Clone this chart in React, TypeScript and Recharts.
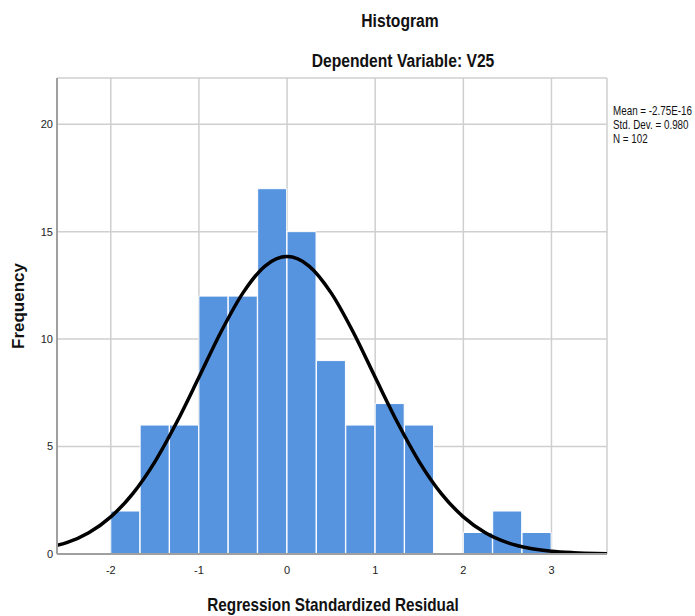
import type { ReactNode } from 'react'
import { ComposedChart, Bar, Line, XAxis, YAxis, CartesianGrid } from 'recharts'

// histogram bins (start of each bin, width 1/3)
const binStarts = [-2, -1.667, -1.333, -1, -0.667, -0.333, 0, 0.333, 0.667, 1, 1.333, 1.667, 2, 2.333, 2.667]
const counts = [2, 6, 6, 12, 12, 17, 15, 9, 6, 7, 6, 0, 1, 2, 1]

// normal curve
const curveX = [-2.61, -2.5, -2.25, -2, -1.75, -1.5, -1.25, -1, -0.75, -0.5, -0.25, 0, 0.25, 0.5, 0.75, 1, 1.25, 1.5, 1.75, 2, 2.25, 2.5, 2.75, 3, 3.25, 3.5, 3.63]
const curveY = [0.4, 0.53, 0.99, 1.73, 2.81, 4.29, 6.14, 8.22, 10.33, 12.15, 13.4, 13.84, 13.4, 12.15, 10.33, 8.22, 6.14, 4.29, 2.81, 1.73, 0.99, 0.53, 0.27, 0.13, 0.06, 0.02, 0.01]

const xTicks = [-2, -1, 0, 1, 2, 3]
const yTicks = [0, 5, 10, 15, 20]
const statsLines = ['Mean = -2.75E-16', 'Std. Dev. = 0.980', 'N = 102']

const W = 695
const H = 616
const X_MIN = -2.61
const X_MAX = 3.63
const Y_MAX = 22.15
const BIN_FIRST = -2
const BIN_LAST = 3

const margin = { top: 78, right: 88, bottom: 32, left: 7 }
const yAxisWidth = 50
const plotWidth = W - margin.left - yAxisWidth - margin.right
const pxPerUnit = plotWidth / (X_MAX - X_MIN)
const padLeft = (BIN_FIRST - X_MIN) * pxPerUnit
const padRight = (X_MAX - BIN_LAST) * pxPerUnit

const bins = binStarts.map((b, i) => ({ bin: b, count: counts[i] }))
const curve = curveX.map((x, i) => ({ x, y: curveY[i] }))

const font = '"Liberation Sans", Arial, sans-serif'
const tickStyle = { fill: '#222', fontSize: 11, fontFamily: font }

// SPSS output uses a condensed sans; squeeze Liberation Sans horizontally
function NarrowText(props: {
  x: number
  y: number
  sx: number
  size: number
  bold?: boolean
  anchor?: 'start' | 'middle' | 'end'
  rotate?: number
  children: ReactNode
}) {
  const { x, y, sx, size, bold, anchor = 'start', rotate = 0, children } = props
  return (
    <text
      x={0}
      y={0}
      transform={`translate(${x}, ${y}) rotate(${rotate}) scale(${sx}, 1)`}
      textAnchor={anchor}
      fontFamily={font}
      fontSize={size}
      fontWeight={bold ? 'bold' : 'normal'}
      fill="#111"
    >
      {children}
    </text>
  )
}

export default function App() {
  return (
    <div style={{ position: 'absolute', left: 0, top: 0, width: W, height: H, background: '#fff' }}>
      <ComposedChart width={W} height={H} data={bins} margin={margin} barCategoryGap={0}>
        <CartesianGrid xAxisId="num" stroke="#cfcfcf" strokeWidth={1.5} />
        <XAxis
          xAxisId="bins"
          type="category"
          dataKey="bin"
          hide
          height={0}
          padding={{ left: padLeft, right: padRight }}
        />
        <XAxis
          xAxisId="num"
          type="number"
          dataKey="x"
          domain={[X_MIN, X_MAX]}
          allowDataOverflow
          ticks={xTicks}
          tick={tickStyle}
          tickLine={false}
          tickSize={0}
          tickMargin={12}
          height={30}
          axisLine={{ stroke: '#a0a0a0', strokeWidth: 2 }}
        />
        <YAxis
          type="number"
          domain={[0, Y_MAX]}
          allowDataOverflow
          ticks={yTicks}
          tick={tickStyle}
          tickLine={false}
          tickSize={0}
          tickMargin={4}
          width={yAxisWidth}
          axisLine={{ stroke: '#a0a0a0', strokeWidth: 2 }}
        />
        <Bar
          xAxisId="bins"
          dataKey="count"
          fill="#5794e0"
          stroke="#ffffff"
          strokeWidth={1}
          isAnimationActive={false}
        />
        <Line
          xAxisId="num"
          data={curve}
          dataKey="y"
          type="monotone"
          stroke="#000"
          strokeWidth={3.5}
          dot={false}
          activeDot={false}
          isAnimationActive={false}
        />
      </ComposedChart>
      <svg width={W} height={H} style={{ position: 'absolute', left: 0, top: 0, pointerEvents: 'none' }}>
        <NarrowText x={400} y={27} sx={0.87} size={18} bold anchor="middle">
          Histogram
        </NarrowText>
        <NarrowText x={403} y={67} sx={0.87} size={18} bold anchor="middle">
          Dependent Variable: V25
        </NarrowText>
        {statsLines.map((s, i) => (
          <NarrowText key={s} x={613} y={115 + i * 14} sx={0.82} size={12}>
            {s}
          </NarrowText>
        ))}
        <NarrowText x={24} y={306} sx={1} size={17} bold anchor="middle" rotate={-90}>
          Frequency
        </NarrowText>
        <NarrowText x={333} y={611} sx={0.85} size={18} bold anchor="middle">
          Regression Standardized Residual
        </NarrowText>
      </svg>
    </div>
  )
}
